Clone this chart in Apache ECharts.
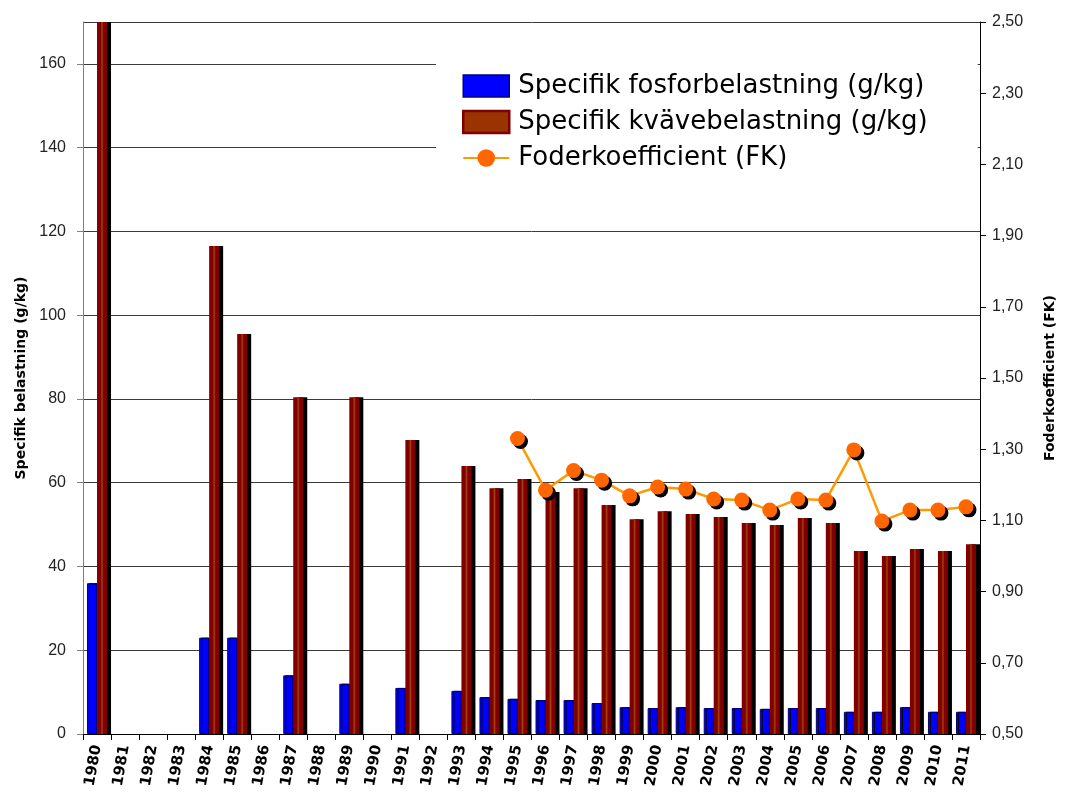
<!DOCTYPE html>
<html lang="sv">
<head>
    <meta charset="UTF-8">
    <title>Specifik belastning och foderkoefficient</title>
    <script src="https://cdn.jsdelivr.net/npm/echarts@6.0.0/dist/echarts.min.js"></script>
    <style>
        html, body { margin: 0; padding: 0; background: #fff; }
        #chart { width: 1065px; height: 796px; }
    </style>
</head>
<body>
    <div id="chart"></div>
    <script>
        // årtal 1980-2011
        const years = [];
        for (let y = 1980; y <= 2011; y++) years.push(String(y));

        // Specifik fosforbelastning (g/kg)
        const fosfor = [36, null, null, null, 23, 23, null, 14, null, 12, null, 11, null,
            10.3, 8.8, 8.4, 8.1, 8.1, 7.4, 6.4, 6.2, 6.4, 6.2, 6.2, 6.0, 6.2, 6.2,
            5.3, 5.3, 6.4, 5.3, 5.3];

        // Specifik kvävebelastning (g/kg)
        const kvave = [170, null, null, null, 116.5, 95.5, null, 80.4, null, 80.4, null, 70.2, null,
            64, 58.7, 60.9, 57.8, 58.7, 54.7, 51.3, 53.2, 52.5, 51.8, 50.4, 49.9, 51.6, 50.4,
            43.7, 42.5, 44.2, 43.7, 45.3];

        // Foderkoefficient (FK)
        const fk = [null, null, null, null, null, null, null, null, null, null, null, null, null,
            null, null, 1.33, 1.185, 1.24, 1.213, 1.169, 1.194, 1.188, 1.16, 1.157, 1.129, 1.16, 1.157,
            1.298, 1.098, 1.129, 1.129, 1.138];

        // högeraxeln börjar på 0,50
        const fkMin = 0.5;

        const chart = echarts.init(document.getElementById('chart'));

        const redFill = new echarts.graphic.LinearGradient(0, 0, 1, 0, [
            { offset: 0, color: '#800000' },
            { offset: 0.35, color: '#800000' },
            { offset: 0.5, color: '#a5420c' },
            { offset: 0.65, color: '#800000' },
            { offset: 1, color: '#800000' }
        ]);

        const boldFont = 'DejaVu Sans, Arial, sans-serif';

        chart.setOption({
            animation: false,
            textStyle: { fontFamily: 'Liberation Sans, Arial, sans-serif' },
            grid: { left: 83, right: 77, top: 22, bottom: 62 },
            legend: {
                orient: 'vertical',
                left: 436,
                top: 46,
                padding: [27, 50, 20, 26],
                backgroundColor: '#fff',
                itemWidth: 46,
                itemHeight: 22,
                itemGap: 10,
                textStyle: { fontSize: 26, fontFamily: boldFont, color: '#000', padding: [0, 0, 0, 4] },
                data: [
                    { name: 'Specifik fosforbelastning (g/kg)', icon: 'rect',
                      itemStyle: { color: '#0000ff', borderColor: '#000080', borderWidth: 1.5, shadowBlur: 0, shadowOffsetX: 0 } },
                    { name: 'Specifik kvävebelastning (g/kg)', icon: 'rect',
                      itemStyle: { color: '#993300', borderColor: '#800000', borderWidth: 2.5, shadowBlur: 0, shadowOffsetX: 0 } },
                    { name: 'Foderkoefficient (FK)' }
                ]
            },
            xAxis: {
                type: 'category',
                data: years,
                boundaryGap: true,
                axisLine: { lineStyle: { color: '#000', width: 1 } },
                axisTick: { show: true, alignWithLabel: false, length: 6, lineStyle: { color: '#000' } },
                axisLabel: {
                    interval: 0,
                    rotate: 80,
                    fontSize: 15,
                    fontWeight: 'bold',
                    fontFamily: boldFont,
                    color: '#000',
                    margin: 11
                }
            },
            yAxis: [
                {
                    type: 'value',
                    min: 0,
                    max: 170,
                    interval: 20,
                    name: 'Specifik belastning (g/kg)',
                    nameLocation: 'middle',
                    nameRotate: 90,
                    nameGap: 53,
                    nameTextStyle: { fontSize: 14, fontWeight: 'bold', fontFamily: boldFont, color: '#000' },
                    axisLine: { show: true, lineStyle: { color: '#808080' } },
                    axisTick: { show: true, length: 6, lineStyle: { color: '#808080' } },
                    axisLabel: { fontSize: 16, color: '#222', margin: 17, showMaxLabel: false },
                    splitLine: { show: true, lineStyle: { color: '#3a3a3a', width: 1 } }
                },
                {
                    type: 'value',
                    min: 0,
                    max: 2,
                    interval: 0.2,
                    name: 'Foderkoefficient (FK)',
                    nameLocation: 'middle',
                    nameRotate: 90,
                    nameGap: 63,
                    nameTextStyle: { fontSize: 14, fontWeight: 'bold', fontFamily: boldFont, color: '#000' },
                    axisLine: { show: true, lineStyle: { color: '#000' } },
                    axisTick: { show: true, length: 6, lineStyle: { color: '#000' } },
                    axisLabel: {
                        fontSize: 16, color: '#222', margin: 12,
                        formatter: v => (v + fkMin).toFixed(2).replace('.', ',')
                    },
                    splitLine: { show: false }
                }
            ],
            series: [
                {
                    name: 'Specifik fosforbelastning (g/kg)',
                    type: 'bar',
                    data: fosfor,
                    barWidth: 10,
                    barGap: '0%',
                    itemStyle: {
                        color: '#0000ff',
                        borderColor: '#000080',
                        borderWidth: 1,
                        shadowColor: '#000',
                        shadowBlur: 0,
                        shadowOffsetX: 2
                    }
                },
                {
                    name: 'Specifik kvävebelastning (g/kg)',
                    type: 'bar',
                    data: kvave,
                    barWidth: 10,
                    barGap: '0%',
                    itemStyle: {
                        color: redFill,
                        shadowColor: '#000',
                        shadowBlur: 0,
                        shadowOffsetX: 4
                    }
                },
                {
                    name: 'Foderkoefficient (FK)',
                    type: 'line',
                    yAxisIndex: 1,
                    data: fk.map(v => v === null ? null : +(v - fkMin).toFixed(3)),
                    symbol: 'circle',
                    symbolSize: 15,
                    lineStyle: { color: '#ff9900', width: 2.5 },
                    itemStyle: {
                        color: '#ff6600',
                        shadowColor: '#000',
                        shadowBlur: 0,
                        shadowOffsetX: 3,
                        shadowOffsetY: 3
                    },
                    z: 5
                }
            ]
        });
    </script>
</body>
</html>
